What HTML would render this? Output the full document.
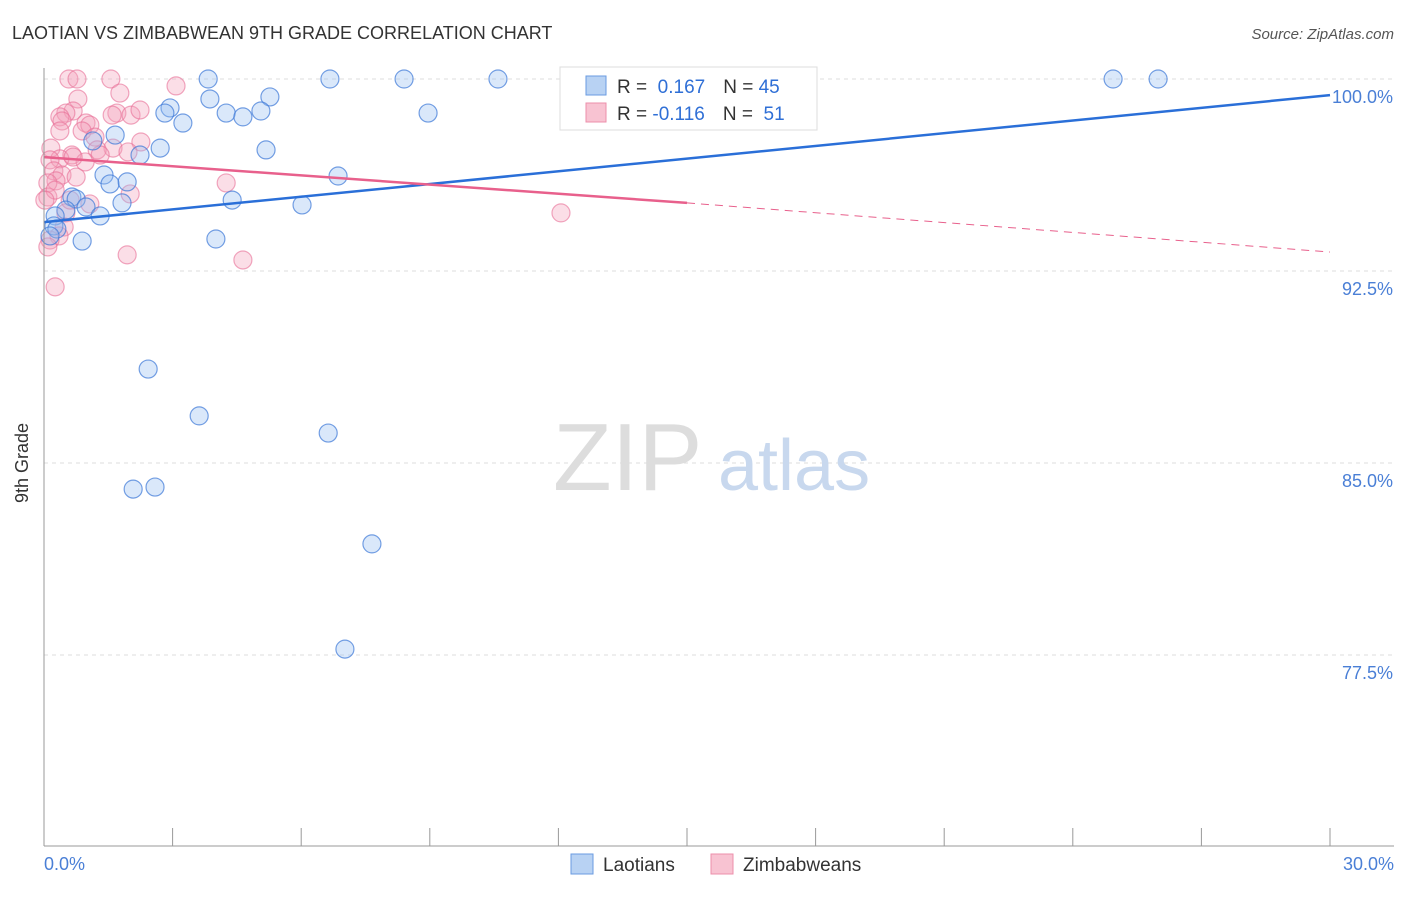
<!DOCTYPE html>
<html><head><meta charset="utf-8"><style>
body{margin:0;background:#fff;font-family:"Liberation Sans",sans-serif;}
svg text{font-family:"Liberation Sans",sans-serif;}
</style></head><body>
<svg width="1406" height="892" viewBox="0 0 1406 892" xmlns="http://www.w3.org/2000/svg" id="chart">
<text x="12" y="39" font-size="18" fill="#333">LAOTIAN VS ZIMBABWEAN 9TH GRADE CORRELATION CHART</text>
<text x="1394" y="39" font-size="15" fill="#555" font-style="italic" text-anchor="end">Source: ZipAtlas.com</text>
<g id="grid"></g>
<g><text x="553" y="490" font-size="96" fill="#ddd" font-family="Liberation Serif">ZIP</text><text x="718" y="490" font-size="72" fill="#c8d8ee">atlas</text></g>
<g id="pts"></g>
<g id="lines"></g>
<line x1="44" y1="68" x2="44" y2="846" stroke="#999"/>
<line x1="44" y1="846" x2="1394" y2="846" stroke="#999"/>
<text x="20" y="455" font-size="18" fill="#333" transform="rotate(-90 28 455)" text-anchor="middle">9th Grade</text>
<text x="44" y="870" font-size="18" fill="#4a7fd6">0.0%</text>
<text x="1394" y="870" font-size="18" fill="#4a7fd6" text-anchor="end">30.0%</text>
<g>
<rect x="560" y="67" width="257" height="63" fill="#fff" stroke="#ddd"/>
<rect x="586" y="76" width="20" height="19" fill="#b8d2f3" stroke="#6a9be0"/>
<rect x="586" y="103" width="20" height="19" fill="#f8c3d2" stroke="#ec8fab"/>
<text x="617" y="93" font-size="19" fill="#333">R = <tspan fill="#2f6fd6">&#160;0.167</tspan><tspan dx="18">N = </tspan><tspan fill="#2f6fd6">45</tspan></text>
<text x="617" y="120" font-size="19" fill="#333">R = <tspan fill="#2f6fd6">-0.116</tspan><tspan dx="18">N = </tspan><tspan fill="#2f6fd6">&#160;51</tspan></text>
</g>
<g>
<rect x="571" y="854" width="22" height="20" fill="#b8d2f3" stroke="#6a9be0"/>
<text x="603" y="871" font-size="19" fill="#333">Laotians</text>
<rect x="711" y="854" width="22" height="20" fill="#f8c3d2" stroke="#ec8fab"/>
<text x="743" y="871" font-size="19" fill="#333">Zimbabweans</text>
</g>
</svg>
<script>
const yTicks=[100,92.5,85,77.5];
const yTickLabels=["100.0%","92.5%","85.0%","77.5%"];
const xTicks=[0,3,6,9,12,15,18,21,24,27,30];
const blueX=[3.83,6.67,8.40,10.59,24.94,25.99,2.94,3.87,5.27,2.82,4.25,4.64,5.06,8.96,3.24,1.66,1.14,2.71,2.24,5.18,1.40,1.54,1.94,6.86,0.65,0.75,4.39,1.82,6.02,0.98,0.51,1.31,0.26,0.23,0.30,0.14,0.89,4.01,2.43,3.62,6.63,2.59,2.08,7.65,7.02];
const blueY=[100,100,100,100,100,100,98.87,99.22,99.30,98.67,98.67,98.52,98.75,98.67,98.28,97.81,97.58,97.30,97.03,97.23,96.25,95.90,95.98,96.21,95.39,95.31,95.27,95.16,95.08,95.00,94.88,94.65,94.65,94.26,94.14,93.87,93.67,93.75,88.67,86.84,86.17,84.06,83.98,81.84,77.73];
const pinkX=[0.58,0.77,1.56,3.08,1.77,0.79,0.68,0.51,0.37,1.70,2.03,0.98,1.07,0.42,0.89,0.37,1.19,2.26,1.61,1.96,0.16,1.24,0.65,0.37,0.14,0.96,0.23,0.42,0.75,0.28,0.09,4.25,2.01,0.09,1.07,0.51,0.47,0.35,0.14,0.09,1.94,4.64,0.26,12.06,0.68,0.26,1.59,0.61,1.31,2.24,0.02];
const pinkY=[100,100,100,99.73,99.45,99.22,98.75,98.67,98.52,98.67,98.59,98.28,98.20,98.36,97.97,97.97,97.73,97.54,97.30,97.15,97.30,97.23,97.03,96.88,96.84,96.76,96.41,96.25,96.17,96.02,95.94,95.94,95.51,95.39,95.12,94.77,94.22,93.87,93.71,93.44,93.13,92.93,91.88,94.77,96.95,95.66,98.59,95.27,97.03,98.79,95.27];
const blueLine=[94.41,99.37];
const pinkLine=[96.95,95.16,93.24];
const X=v=>44+v*(1286/30);
const Y=v=>79+(100-v)*25.6;
const NS="http://www.w3.org/2000/svg";
function mk(t,a,p){const e=document.createElementNS(NS,t);for(const k in a)e.setAttribute(k,a[k]);p.appendChild(e);return e;}
const grid=document.getElementById('grid');
yTicks.forEach((t,i)=>{
 const l=mk('line',{x1:44,x2:1394,y1:Y(t),y2:Y(t),stroke:'#ddd','stroke-dasharray':'4,4'},grid);
 
 
 const tx=mk('text',{x:1393,y:Y(t)+24,'font-size':18,fill:'#4a7fd6','text-anchor':'end'},grid);
 tx.textContent=yTickLabels[i];
 
 
});
xTicks.forEach(t=>{
 const l=mk('line',{x1:X(t),x2:X(t),y1:828,y2:846,stroke:'#999'},grid);
 
 
});
const pts=document.getElementById('pts');
pinkX.forEach((x,i)=>{
 const c=mk('circle',{cx:X(x),cy:Y(pinkY[i]),r:9,fill:'rgba(244,160,185,0.35)',stroke:'rgba(232,110,150,0.6)','stroke-width':1.2},pts);
 
 
});
blueX.forEach((x,i)=>{
 const c=mk('circle',{cx:X(x),cy:Y(blueY[i]),r:9,fill:'rgba(150,190,240,0.35)',stroke:'rgba(60,120,215,0.7)','stroke-width':1.2},pts);
 
 
});
const lines=document.getElementById('lines');
const bl=mk('line',{x1:X(0),y1:Y(blueLine[0]),x2:X(30),y2:Y(blueLine[1]),stroke:'#2a6fd8','stroke-width':2.5},lines);


const pl=mk('line',{x1:X(0),y1:Y(pinkLine[0]),x2:X(15),y2:Y(pinkLine[1]),stroke:'#e8608c','stroke-width':2.5},lines);


const pd=mk('line',{x1:X(15),y1:Y(pinkLine[1]),x2:X(30),y2:Y(pinkLine[2]),stroke:'#e8608c','stroke-width':1,'stroke-dasharray':'8,6'},lines);


</script>
</body></html>
